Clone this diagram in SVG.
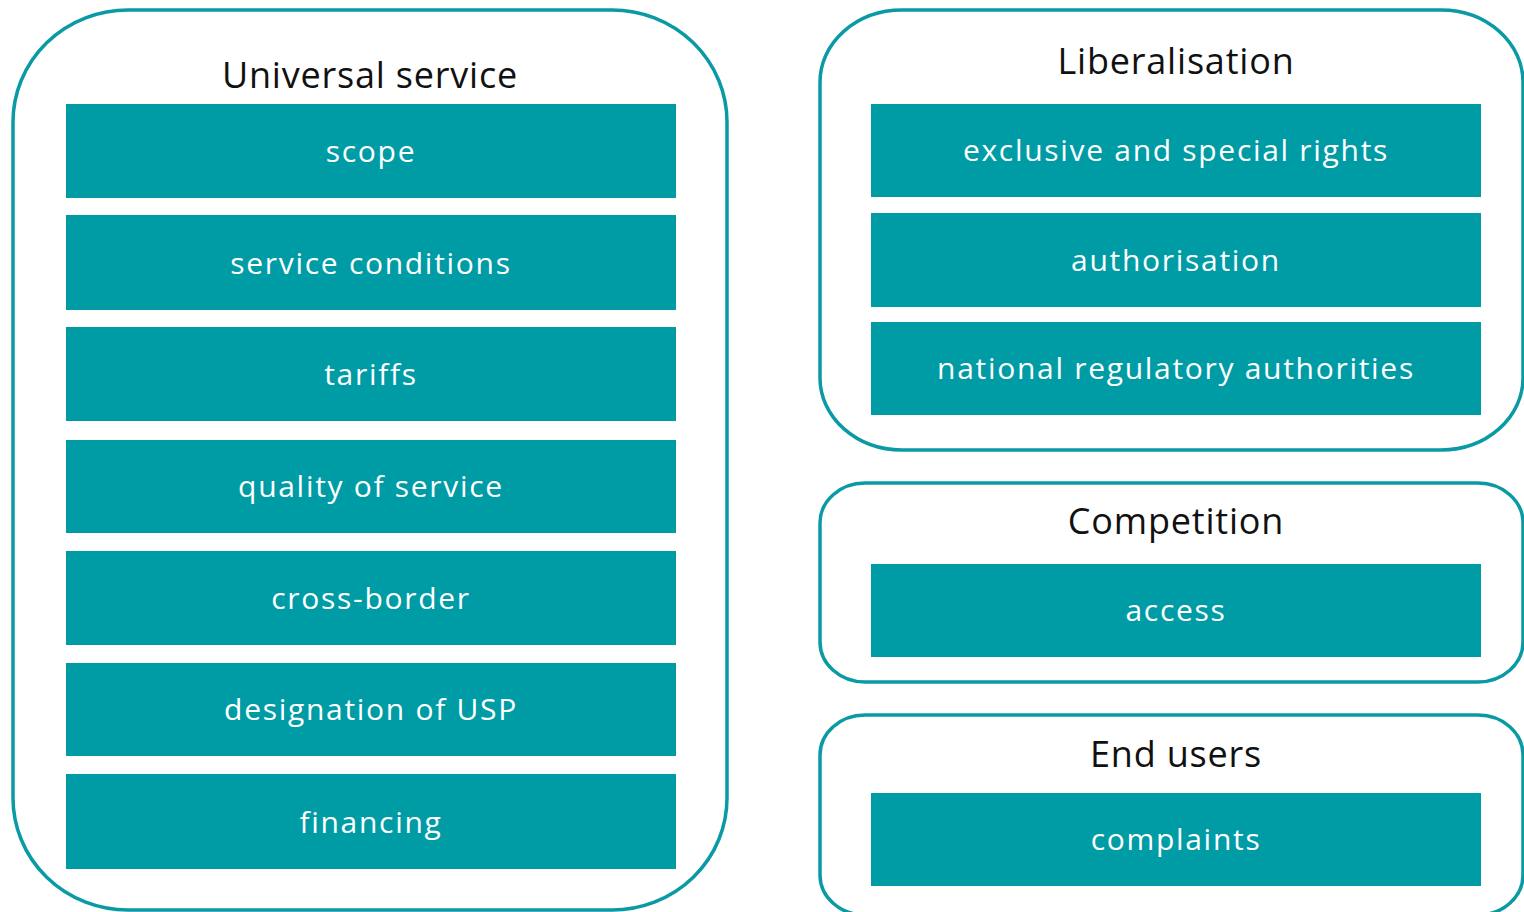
<svg xmlns="http://www.w3.org/2000/svg" width="1524" height="912" viewBox="0 0 1524 912">
  <style>
    .frame { fill: #ffffff; stroke: #0a9aa5; stroke-width: 3.5; }
    .item { fill: #009ca6; }
    .title { font-family: "Open Sans", "Liberation Sans", sans-serif; font-size: 36px; letter-spacing: 0.8px; fill: #111111; text-anchor: middle; }
    .label { font-family: "Open Sans", "Liberation Sans", sans-serif; font-size: 30px; letter-spacing: 1.7px; fill: #ffffff; text-anchor: middle; }
  </style>
  <rect width="1524" height="912" fill="#ffffff"/>

  <!-- Universal service group -->
  <g id="universal-service">
    <rect class="frame" x="13" y="10" width="714" height="900" rx="115" ry="112"/>
    <text class="title" x="370" y="88">Universal service</text>
    <g id="us-scope"><rect class="item" x="66" y="104" width="610" height="94"/><text class="label" x="371" y="162">scope</text></g>
    <g id="us-service-conditions"><rect class="item" x="66" y="215" width="610" height="95"/><text class="label" x="371" y="274">service conditions</text></g>
    <g id="us-tariffs"><rect class="item" x="66" y="327" width="610" height="94"/><text class="label" x="371" y="385">tariffs</text></g>
    <g id="us-quality"><rect class="item" x="66" y="440" width="610" height="93"/><text class="label" x="371" y="497">quality of service</text></g>
    <g id="us-cross-border"><rect class="item" x="66" y="551" width="610" height="94"/><text class="label" x="371" y="609">cross-border</text></g>
    <g id="us-designation"><rect class="item" x="66" y="663" width="610" height="93"/><text class="label" x="371" y="720">designation of USP</text></g>
    <g id="us-financing"><rect class="item" x="66" y="774" width="610" height="95"/><text class="label" x="371" y="833">financing</text></g>
  </g>

  <!-- Liberalisation group -->
  <g id="liberalisation">
    <rect class="frame" x="820" y="10" width="703" height="440" rx="82" ry="72"/>
    <text class="title" x="1176" y="74">Liberalisation</text>
    <g id="lib-rights"><rect class="item" x="871" y="104" width="610" height="93"/><text class="label" x="1176" y="161">exclusive and special rights</text></g>
    <g id="lib-authorisation"><rect class="item" x="871" y="213" width="610" height="94"/><text class="label" x="1176" y="271">authorisation</text></g>
    <g id="lib-nra"><rect class="item" x="871" y="322" width="610" height="93"/><text class="label" x="1176" y="379">national regulatory authorities</text></g>
  </g>

  <!-- Competition group -->
  <g id="competition">
    <rect class="frame" x="820" y="483" width="703" height="199" rx="45" ry="40"/>
    <text class="title" x="1176" y="534">Competition</text>
    <g id="comp-access"><rect class="item" x="871" y="564" width="610" height="93"/><text class="label" x="1176" y="621">access</text></g>
  </g>

  <!-- End users group -->
  <g id="end-users">
    <rect class="frame" x="820" y="715" width="703" height="200" rx="45" ry="40"/>
    <text class="title" x="1176" y="767">End users</text>
    <g id="eu-complaints"><rect class="item" x="871" y="793" width="610" height="93"/><text class="label" x="1176" y="850">complaints</text></g>
  </g>

  <!-- no connectors in this figure -->
  <g id="connectors"/>
</svg>
